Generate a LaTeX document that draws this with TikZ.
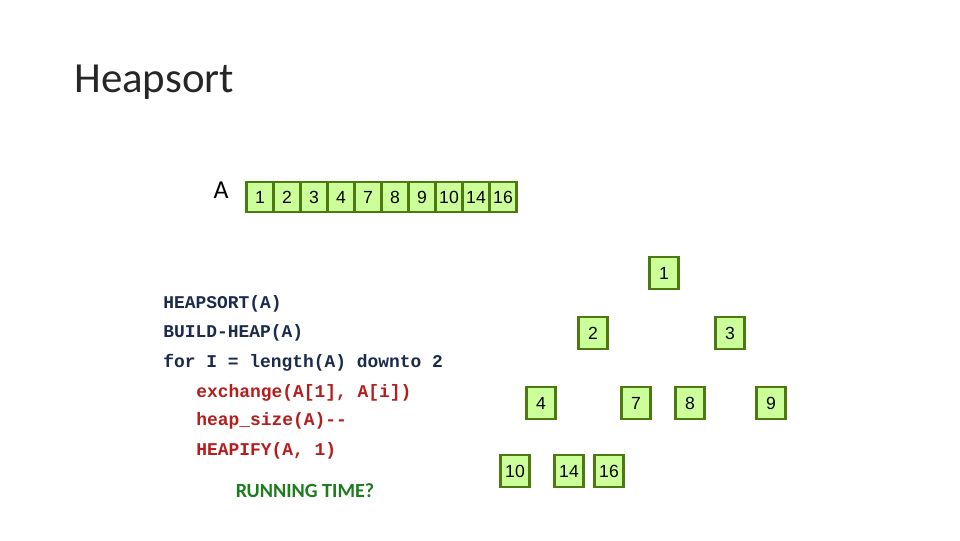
\documentclass[tikz,border=0pt]{standalone}
\usepackage{fontspec}
\setmainfont{Carlito}
\newfontfamily\codefont{Liberation Mono}
\newfontfamily\numfont{Liberation Sans}
\usepackage{tikz}
\tikzset{>=latex}
\definecolor{boxfill}{HTML}{CCFF99}
\definecolor{boxline}{HTML}{4C7A10}
\definecolor{codeblue}{HTML}{1A2B4C}
\definecolor{codered}{HTML}{B71C1C}
\definecolor{rungreen}{HTML}{1E7B1E}
\definecolor{titlegray}{HTML}{262626}
\tikzset{
  cell/.style={draw=boxline,fill=boxfill,line width=1.6pt,inner sep=0pt,
    minimum width=0.675cm,minimum height=0.75cm,font=\numfont\fontsize{12.5}{14}\selectfont},
  heapnode/.style={cell,minimum width=0.72cm,minimum height=0.8cm},
  codeline/.style={anchor=base west,inner sep=0pt,text=codeblue,
    font=\codefont\bfseries\fontsize{12.75}{15}\selectfont},
  codeloop/.style={codeline,text=codered}
}

\begin{document}
\begin{tikzpicture}[x=0.025cm,y=-0.025cm]
         \fill[white] (0,0) rectangle (960,540); % 背景
         \node[anchor=base west,inner sep=0pt,text=titlegray,
               font=\fontsize{30.5}{34}\selectfont] (title) at (74,92) {Heapsort};
         \node[anchor=base,inner sep=0pt,font=\fontsize{18.4}{22}\selectfont] (arrA) at (221,198) {A};
         % 数组 A
         \foreach \v [count=\i] in {1,2,3,4,7,8,9,10,14,16}
           \node[cell] (a\i) at (233+27*\i,197) {\v};
         % 堆 (树)
         \node[heapnode] (h1) at (664,273) {1};
         \node[heapnode] (h2) at (593,333) {2};
         \node[heapnode] (h3) at (730,333) {3};
         \node[heapnode] (h4) at (541,403) {4};
         \node[heapnode] (h5) at (636,403) {7};
         \node[heapnode] (h6) at (690,403) {8};
         \node[heapnode] (h7) at (771,403) {9};
         \node[heapnode] (h8) at (515,471) {10};
         \node[heapnode] (h9) at (569,471) {14};
         \node[heapnode] (h10) at (609,471) {16};
         % 伪代码
         \node[codeline] (c1) at (163,308) {HEAPSORT(A)};
         \node[codeline] (c2) at (163,337) {BUILD-HEAP(A)};
         \node[codeline] (c3) at (163,367) {for I = length(A) downto 2};
         \node[codeloop] (c4) at (196,397) {exchange(A[1], A[i])};
         \node[codeloop] (c5) at (196,425) {heap\_size(A)-{}-};
         \node[codeloop] (c6) at (196,455) {HEAPIFY(A, 1)};
         \node[anchor=base,inner sep=0pt,text=rungreen,
               font=\bfseries\fontsize{14.3}{17}\selectfont] (run) at (305,497) {RUNNING TIME?};
        \end{tikzpicture}
\end{document}
